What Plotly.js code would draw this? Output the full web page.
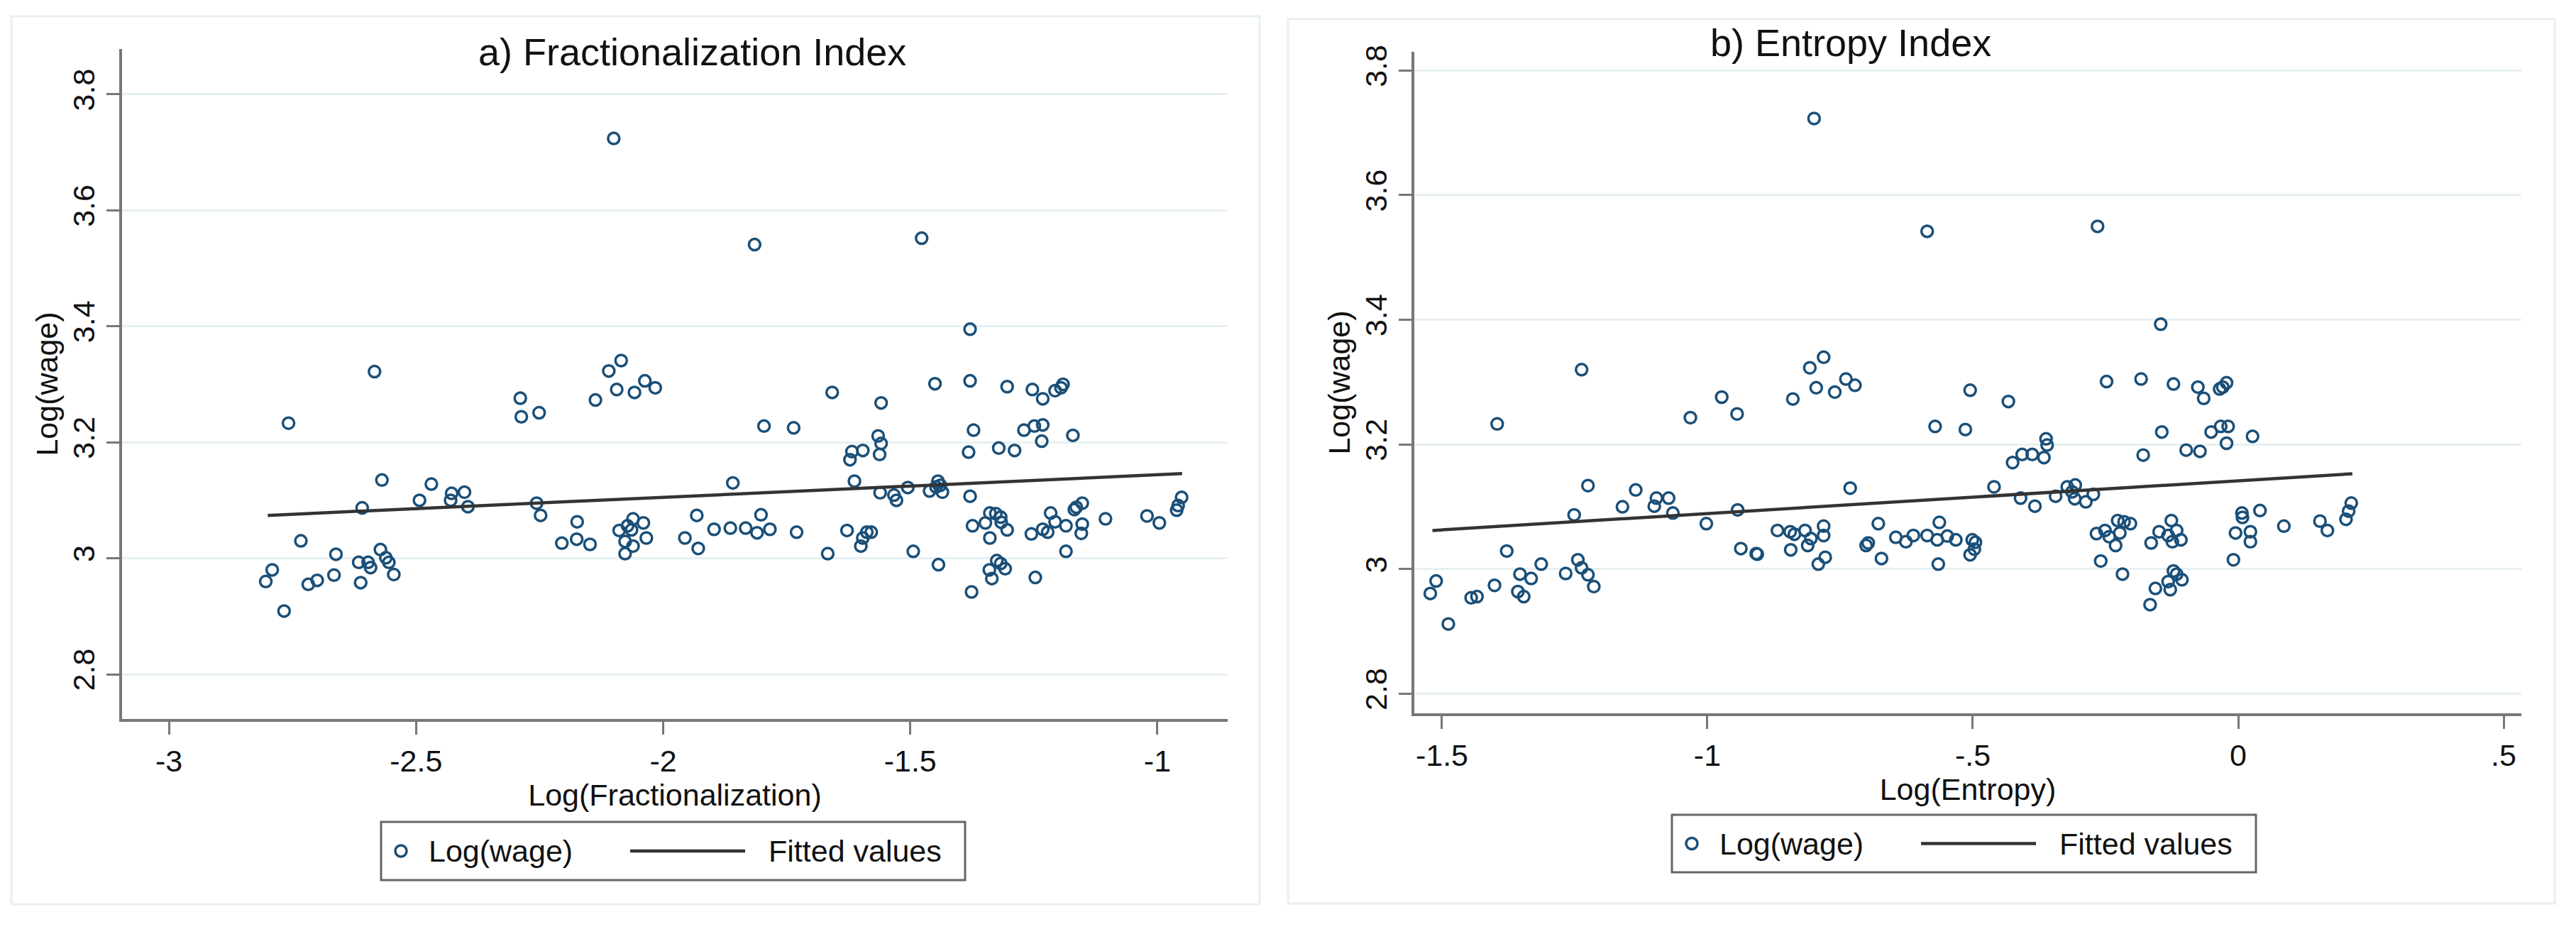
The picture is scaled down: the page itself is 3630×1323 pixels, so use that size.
<!DOCTYPE html>
<html>
<head>
<meta charset="utf-8">
<script src="https://cdn.plot.ly/plotly-3.0.1.min.js"></script>
<style>html,body{margin:0;padding:0;background:#fff;}#chart{width:3630px;height:1323px;}</style>
</head>
<body>
<div id="chart"></div>
<script>
// ---- Panel a) Fractionalization Index ----
const fracX = [
-2.100,-2.584,-2.758,-2.289,-2.287,-2.251,-2.110,-2.085,-2.094,-2.137,-2.058,-2.037,-2.016,
-2.569,-2.469,-2.609,-2.493,-2.428,-2.402,-2.430,-2.395,-2.256,-2.248,-2.733,-2.662,-2.791,
-2.804,-2.767,-2.718,-2.700,-2.666,-2.616,-2.597,-2.592,-2.612,-2.572,-2.561,-2.555,-2.545,
-2.174,-2.205,-2.175,-2.148,-2.061,-2.040,-2.089,-2.072,-2.064,-2.077,-2.061,-2.034,-2.077,
-1.932,-1.956,-1.929,
-1.815,-1.477,-1.379,-1.450,-1.379,-1.304,-1.253,-1.232,-1.207,-1.195,-1.191,-1.658,-1.559,
-1.796,-1.736,-1.565,-1.559,-1.562,-1.618,-1.596,-1.622,-1.372,-1.382,-1.321,-1.289,-1.270,
-1.249,-1.232,-1.234,-1.171,-1.859,-1.613,-1.561,-1.533,-1.528,-1.505,-1.461,-1.444,-1.439,
-1.435,-1.448,-1.379,-1.897,-1.864,-1.833,-1.802,-1.810,-1.784,-1.730,-1.667,-1.628,-1.600,
-1.596,-1.588,-1.579,-1.494,-1.443,-1.376,-1.374,-1.348,-1.339,-1.327,-1.317,-1.339,-1.304,
-1.316,-1.325,-1.317,-1.340,-1.308,-1.335,-1.247,-1.255,-1.232,-1.216,-1.207,-1.222,-1.185,
-1.185,-1.168,-1.164,-1.152,-1.152,-1.154,-1.105,-1.021,-0.996,-0.961,-0.958,-0.951
];
const fracWage = [
3.724,3.322,3.233,3.276,3.244,3.251,3.323,3.341,3.291,3.273,3.286,3.306,3.294,
3.135,3.128,3.087,3.100,3.112,3.114,3.100,3.089,3.095,3.074,3.030,3.007,2.980,
2.960,2.909,2.955,2.962,2.971,2.993,2.993,2.984,2.958,3.015,3.001,2.993,2.972,
3.063,3.026,3.033,3.024,3.068,3.061,3.048,3.056,3.049,3.029,3.021,3.035,3.008,
3.074,3.035,3.017,
3.541,3.552,3.395,3.301,3.306,3.296,3.291,3.275,3.289,3.294,3.300,3.286,3.268,
3.228,3.225,3.211,3.198,3.179,3.184,3.186,3.170,3.221,3.183,3.190,3.186,3.221,
3.228,3.230,3.202,3.212,3.130,3.133,3.113,3.109,3.100,3.122,3.116,3.133,3.126,
3.114,3.123,3.107,3.050,3.052,3.052,3.075,3.044,3.050,3.045,3.008,3.048,3.021,
3.035,3.045,3.045,3.012,2.989,2.942,3.056,3.061,3.078,3.077,3.071,3.035,3.049,
3.062,2.996,2.991,2.980,2.982,2.965,2.967,3.042,3.050,3.078,3.063,3.045,3.056,
3.012,3.084,3.088,3.095,3.059,3.043,3.068,3.073,3.061,3.083,3.091,3.105
];
const fracFitX = [-2.80, -0.95];
const fracFitY = [3.074, 3.146];

// ---- Panel b) Entropy Index ----
const entX = [
-0.799,-0.586,-1.237,-1.396,-1.032,-0.973,-0.944,-0.839,-0.807,-0.781,-0.795,-0.760,-0.739,
-0.722,-0.731,-1.225,-1.251,-1.135,-1.160,-1.096,-1.073,-1.100,-1.065,-1.002,-0.943,-1.378,
-1.511,-1.522,-1.488,-1.445,-1.434,-1.401,-1.353,-1.357,-1.346,-1.332,-1.313,-1.267,-1.244,
-1.237,-1.225,-1.214,-0.937,-0.908,-0.906,-0.868,-0.844,-0.836,-0.816,-0.843,-0.811,-0.805,
-0.781,-0.781,-0.791,-0.778,-0.701,-0.697,-0.678,-0.672,-0.645,-0.626,-0.612,-0.586,
-0.265,-0.146,-0.248,-0.183,-0.122,-0.076,-0.065,-0.035,-0.029,-0.022,-0.505,-0.433,-0.571,
-0.514,-0.144,-0.051,-0.033,-0.019,-0.022,0.027,-0.179,-0.098,-0.072,-0.425,-0.407,-0.388,
-0.366,-0.362,-0.360,-0.460,-0.410,-0.383,-0.344,-0.322,-0.307,-0.313,-0.308,-0.287,-0.273,
-0.563,-0.567,-0.548,-0.532,-0.565,-0.501,-0.495,-0.497,-0.505,-0.267,-0.251,-0.243,-0.227,
-0.215,-0.203,-0.223,-0.231,-0.259,-0.218,-0.164,-0.149,-0.126,-0.132,-0.116,-0.124,-0.108,
-0.122,-0.116,-0.132,-0.106,-0.156,-0.128,-0.166,-0.009,0.007,0.008,0.041,-0.005,0.023,
0.023,0.086,0.154,0.168,0.203,0.208,0.213
];
const entWage = [
3.723,3.542,3.320,3.233,3.243,3.276,3.249,3.273,3.323,3.340,3.291,3.284,3.305,
3.295,3.130,3.134,3.087,3.127,3.100,3.114,3.114,3.101,3.090,3.073,3.095,3.029,
2.981,2.961,2.912,2.954,2.956,2.974,2.992,2.964,2.956,2.985,3.008,2.993,3.015,
3.002,2.991,2.972,3.033,3.025,3.024,3.062,3.060,3.056,3.062,3.031,3.038,3.049,
3.069,3.054,3.008,3.019,3.038,3.042,3.073,3.017,3.051,3.044,3.054,3.054,
3.550,3.393,3.301,3.305,3.297,3.292,3.274,3.289,3.292,3.299,3.287,3.269,3.229,
3.224,3.220,3.220,3.229,3.229,3.202,3.213,3.183,3.191,3.189,3.171,3.184,3.184,
3.179,3.209,3.199,3.132,3.114,3.101,3.117,3.132,3.135,3.124,3.113,3.108,3.120,
3.075,3.047,3.053,3.047,3.008,3.047,3.043,3.032,3.023,3.057,3.062,3.052,3.078,
3.076,3.073,3.058,3.038,3.013,2.992,3.042,3.060,3.078,3.054,3.062,3.044,3.047,
2.997,2.992,2.980,2.983,2.969,2.967,2.943,3.015,3.090,3.083,3.094,3.058,3.060,
3.044,3.069,3.077,3.062,3.080,3.093,3.106
];
const entFitX = [-1.518, 0.215];
const entFitY = [3.062, 3.153];

// ---- Tick labels & texts ----
const fracTickVals = [-3, -2.5, -2, -1.5, -1];
const fracTickText = ['-3', '-2.5', '-2', '-1.5', '-1'];
const entTickVals = [-1.5, -1, -0.5, 0, 0.5];
const entTickText = ['-1.5', '-1', '-.5', '0', '.5'];
const wageTickVals = [2.8, 3, 3.2, 3.4, 3.6, 3.8];
const wageTickText = ['2.8', '3', '3.2', '3.4', '3.6', '3.8'];
const panelTitles = ['a) Fractionalization Index', 'b) Entropy Index'];
const xTitles = ['Log(Fractionalization)', 'Log(Entropy)'];
const yTitle = 'Log(wage)';
const seriesNames = ['Log(wage)', 'Fitted values'];

// ---- helpers (layout positioning only) ----
const W = 3630, H = 1323;
const px = v => v / W;
const py = v => 1 - v / H;

const FONT = 'Liberation Sans, Arial, Helvetica, sans-serif';
const MARK = '#1a4f78';
const AX = '#777777';
const FITC = '#333333';

const markerStyle = {symbol: 'circle-open', size: 16, color: MARK, line: {width: 3.5, color: MARK}};
const lineStyle = {color: FITC, width: 4.5};

const traces = [
  {x: fracX, y: fracWage, type: 'scatter', mode: 'markers', name: seriesNames[0], marker: markerStyle, xaxis: 'x', yaxis: 'y', showlegend: false},
  {x: fracFitX, y: fracFitY, type: 'scatter', mode: 'lines', name: seriesNames[1], line: lineStyle, xaxis: 'x', yaxis: 'y', showlegend: false},
  {x: entX, y: entWage, type: 'scatter', mode: 'markers', name: seriesNames[0], marker: markerStyle, xaxis: 'x2', yaxis: 'y2', showlegend: false},
  {x: entFitX, y: entFitY, type: 'scatter', mode: 'lines', name: seriesNames[1], line: lineStyle, xaxis: 'x2', yaxis: 'y2', showlegend: false}
];

function xAxis(domain, range, vals, text, title, anchor) {
  return {
    domain: domain, range: range, anchor: anchor,
    tickmode: 'array', tickvals: vals, ticktext: text,
    showgrid: false, zeroline: false, showline: true, linecolor: AX, linewidth: 4,
    ticks: 'outside', ticklen: 18, tickwidth: 3, tickcolor: AX,
    tickfont: {family: FONT, size: 43, color: '#111'},
    title: {text: title, standoff: 0, font: {family: FONT, size: 43, color: '#111'}},
    fixedrange: true
  };
}
function yAxis(domain, range, title, anchor) {
  return {
    domain: domain, range: range, anchor: anchor,
    tickmode: 'array', tickvals: wageTickVals, ticktext: wageTickText,
    tickangle: -90,
    showgrid: true, gridcolor: '#e7f0f3', gridwidth: 3,
    zeroline: false, showline: true, linecolor: AX, linewidth: 4,
    ticks: 'outside', ticklen: 18, tickwidth: 3, tickcolor: AX,
    tickfont: {family: FONT, size: 43, color: '#111'},
    title: {text: title, standoff: 0, font: {family: FONT, size: 43, color: '#111'}},
    fixedrange: true
  };
}

// ---- hand-built legends (one per panel), positioned in pixels ----
function legendParts(left, top, bottom) {
  const cy = (top + bottom) / 2;
  const shapes = [
    {type: 'rect', xref: 'paper', yref: 'paper', x0: px(left), x1: px(left + 823), y0: py(bottom), y1: py(top), line: {color: '#666666', width: 3}, fillcolor: '#ffffff'},
    {type: 'circle', xref: 'paper', yref: 'paper', x0: px(left + 20), x1: px(left + 36), y0: py(cy + 8), y1: py(cy - 8), line: {color: MARK, width: 3.5}},
    {type: 'line', xref: 'paper', yref: 'paper', x0: px(left + 351), x1: px(left + 513), y0: py(cy), y1: py(cy), line: {color: FITC, width: 4.5}}
  ];
  const ann = [
    {text: seriesNames[0], xref: 'paper', yref: 'paper', x: px(left + 65), y: py(cy), xanchor: 'left', yanchor: 'middle', showarrow: false, font: {family: FONT, size: 43, color: '#111'}},
    {text: seriesNames[1], xref: 'paper', yref: 'paper', x: px(left + 544), y: py(cy), xanchor: 'left', yanchor: 'middle', showarrow: false, font: {family: FONT, size: 43, color: '#111'}}
  ];
  return {shapes, ann};
}
const legA = legendParts(537, 1158, 1240);
const legB = legendParts(2356, 1148, 1229);

const layout = {
  width: W, height: H,
  margin: {l: 0, r: 0, t: 0, b: 0, pad: 0},
  paper_bgcolor: '#ffffff', plot_bgcolor: '#ffffff',
  font: {family: FONT, size: 43, color: '#111'},
  showlegend: false,
  xaxis: xAxis([px(172), px(1730)], [-3.0948, -0.8578], fracTickVals, fracTickText, xTitles[0], 'y'),
  yaxis: yAxis([py(1013), py(69)], [2.7229, 3.8783], yTitle, 'x'),
  xaxis2: xAxis([px(1993), px(3553)], [-1.5521, 0.5334], entTickVals, entTickText, xTitles[1], 'y2'),
  yaxis2: yAxis([py(1005), py(73)], [2.7687, 3.8300], yTitle, 'x2'),
  annotations: [
    {text: panelTitles[0], xref: 'paper', yref: 'paper', x: px(975), y: py(73), xanchor: 'center', yanchor: 'middle', showarrow: false, font: {family: FONT, size: 54, color: '#111'}},
    {text: panelTitles[1], xref: 'paper', yref: 'paper', x: px(2608), y: py(60), xanchor: 'center', yanchor: 'middle', showarrow: false, font: {family: FONT, size: 54, color: '#111'}}
  ].concat(legA.ann, legB.ann),
  shapes: [
    {type: 'rect', xref: 'paper', yref: 'paper', x0: px(16), x1: px(1775), y0: py(1274), y1: py(23), line: {color: '#e8f0f3', width: 3}, layer: 'below'},
    {type: 'rect', xref: 'paper', yref: 'paper', x0: px(1815), x1: px(3600), y0: py(1273), y1: py(27), line: {color: '#e8f0f3', width: 3}, layer: 'below'}
  ].concat(legA.shapes, legB.shapes)
};

Plotly.newPlot('chart', traces, layout, {staticPlot: true, displayModeBar: false});
</script>
</body>
</html>
